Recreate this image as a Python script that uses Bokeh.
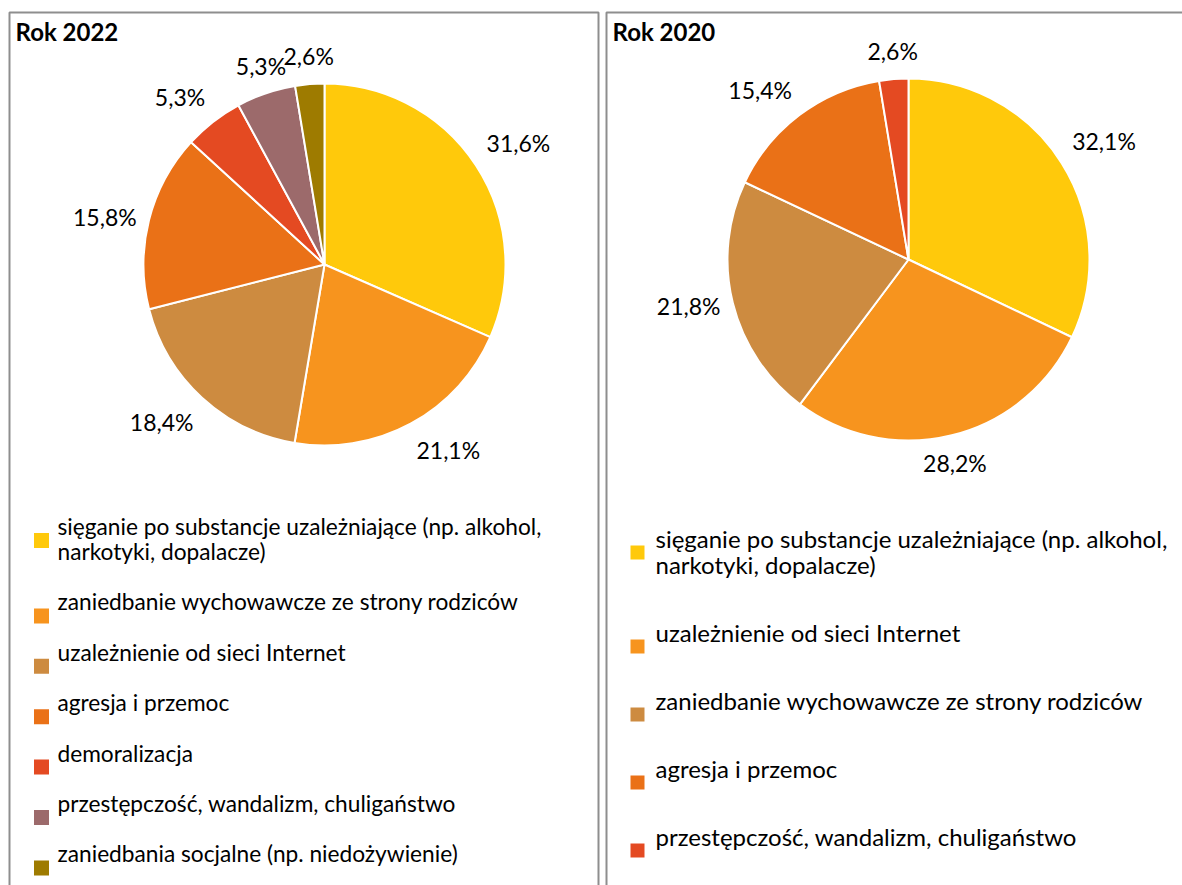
import math
from bokeh.plotting import figure
from bokeh.models import Range1d
from bokeh.core.properties import value
from bokeh.embed import file_html
from bokeh.resources import INLINE

# ---------------- data ----------------
title_2022 = "Rok 2022"
cats_2022 = [
    "sięganie po substancje uzależniające (np. alkohol,\nnarkotyki, dopalacze)",
    "zaniedbanie wychowawcze ze strony rodziców",
    "uzależnienie od sieci Internet",
    "agresja i przemoc",
    "demoralizacja",
    "przestępczość, wandalizm, chuligaństwo",
    "zaniedbania socjalne (np. niedożywienie)",
]
vals_2022 = [31.6, 21.1, 18.4, 15.8, 5.3, 5.3, 2.6]
colors_2022 = ["#FFC90B", "#F7941E", "#CD8B40", "#EA7117", "#E44A22", "#9C6A6B", "#9E7B00"]

title_2020 = "Rok 2020"
cats_2020 = [
    "sięganie po substancje uzależniające (np. alkohol,\nnarkotyki, dopalacze)",
    "uzależnienie od sieci Internet",
    "zaniedbanie wychowawcze ze strony rodziców",
    "agresja i przemoc",
    "przestępczość, wandalizm, chuligaństwo",
]
vals_2020 = [32.1, 28.2, 21.8, 15.4, 2.6]
colors_2020 = ["#FFC90B", "#F7941E", "#CD8B40", "#EA7117", "#E44A22"]

# ---------------- layout ----------------
W, H = 1182, 885
FONT = "Lato"
TXT = "#000000"
BORDER = "#8E8E8E"


def Y(py):
    return H - py


p = figure(width=W, height=H, x_range=Range1d(0, W), y_range=Range1d(0, H),
           output_backend="svg", toolbar_location=None, min_border=0,
           x_axis_location=None, y_axis_location=None, outline_line_color=None)
p.grid.visible = False
p.background_fill_color = "white"


def fmt(v):
    return f"{v:.1f}".replace(".", ",") + "%"


def ramp(u):
    return max(0.0, min(1.0, (abs(u) - 0.32) / 0.12))


def panel(title, cats, vals, colors, box_x0, box_x1, cx, cy, r, title_x,
          mk_x, mk_size, tx_x, leg_y0, item_gap, line_gap, leg_font):
    # frame (open at the bottom)
    xs = [box_x0, box_x0, box_x1] + ([box_x1] if box_x1 < W else [])
    ys = [Y(H + 5), Y(12), Y(12)] + ([Y(H + 5)] if box_x1 < W else [])
    p.line(xs, ys, line_color=BORDER, line_width=2)
    # title
    p.text(x=[title_x], y=[Y(31)], text=[title], text_font=value(FONT), text_font_size="24px",
           text_font_style="bold", text_color=TXT, text_align="left", text_baseline="middle")
    # pie
    total = sum(vals)
    starts, ends, mids = [], [], []
    c = 0.0
    for v in vals:
        f0 = c / total
        c += v
        f1 = c / total
        starts.append(math.pi / 2 - 2 * math.pi * f0)
        ends.append(math.pi / 2 - 2 * math.pi * f1)
        mids.append(math.pi * (f0 + f1))
    p.wedge(x=[cx] * len(vals), y=[Y(cy)] * len(vals), radius=r, radius_units="screen",
            start_angle=starts, end_angle=ends, direction="clock",
            fill_color=colors, line_color="white", line_width=2)
    # data labels (outside end): label box placed just beyond the rim along the mid angle
    lx, ly, lt = [], [], []
    for v, m in zip(vals, mids):
        t = fmt(v)
        s, co = math.sin(m), math.cos(m)
        hw, hh = 6.3 * len(t), 15
        px = cx + (r + 13) * s + math.copysign(hw * ramp(s), s)
        py = cy - (r + 13) * co - math.copysign(hh * ramp(co), co)
        lx.append(px)
        ly.append(Y(py))
        lt.append(t)
    p.text(x=lx, y=ly, text=lt, text_font=value(FONT), text_font_size="23px", text_color=TXT,
           text_align="center", text_baseline="middle")
    # legend
    my = leg_y0
    mxs, mys, txs, tys, tts = [], [], [], [], []
    for cat in cats:
        lines = cat.split("\n")
        mxs.append(mk_x)
        mys.append(Y(my))
        for k, ln in enumerate(lines):
            txs.append(tx_x)
            tys.append(Y(my - 14 + k * line_gap))
            tts.append(ln)
        my += item_gap + (len(lines) - 1) * line_gap
    p.scatter(x=mxs, y=mys, marker="square", size=mk_size, fill_color=colors, line_color=None)
    p.text(x=txs, y=tys, text=tts, text_font=value(FONT), text_font_size=leg_font, text_color=TXT,
           text_align="left", text_baseline="middle")


panel(title_2022, cats_2022, vals_2022, colors_2022, 9, 598, 324, 264, 181, 15,
      41, 15, 57, 540, 50.4, 25, "22.7px")
panel(title_2020, cats_2020, vals_2020, colors_2020, 606, W + 10, 908, 259, 181, 612,
      637, 14, 655, 552, 68, 26, "24px")

open("out.html", "w").write(file_html(p, INLINE))
